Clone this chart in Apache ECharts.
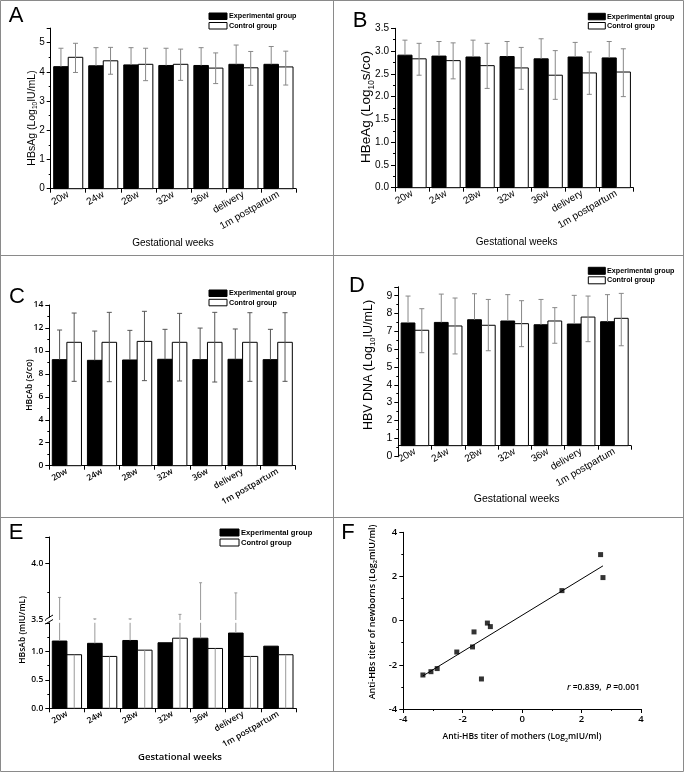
<!DOCTYPE html>
<html><head><meta charset="utf-8">
<script src="https://cdn.jsdelivr.net/npm/echarts@6/dist/echarts.min.js"></script>
<style>html,body{margin:0;padding:0;background:#fff}#c{width:685px;height:774px}</style>
</head><body><div id="c"></div>
<script>
// ---------- DATA ----------
const categories = ['20w', '24w', '28w', '32w', '36w', 'delivery', '1m postpartum'];

// A: HBsAg (Log10 IU/mL)
const hbsagExp = [4.18, 4.21, 4.24, 4.22, 4.22, 4.26, 4.26];
const hbsagExpUpper = [4.81, 4.83, 4.83, 4.81, 4.83, 4.92, 4.87];
const hbsagCtl = [4.50, 4.38, 4.26, 4.26, 4.13, 4.14, 4.17];
const hbsagCtlUpper = [4.98, 4.84, 4.81, 4.78, 4.65, 4.70, 4.71];
const hbsagCtlLower = [3.98, 3.92, 3.70, 3.71, 3.60, 3.54, 3.55];

// B: HBeAg (Log10 s/co)
const hbeagExp = [2.91, 2.89, 2.87, 2.88, 2.83, 2.87, 2.85];
const hbeagExpUpper = [3.24, 3.21, 3.24, 3.21, 3.27, 3.19, 3.21];
const hbeagCtl = [2.83, 2.79, 2.68, 2.63, 2.47, 2.52, 2.54];
const hbeagCtlUpper = [3.17, 3.18, 3.17, 3.08, 3.01, 2.98, 3.05];
const hbeagCtlLower = [2.47, 2.39, 2.18, 2.16, 1.94, 2.05, 2.00];

// C: HBcAb (s/co)
const hbcabExp = [9.24, 9.18, 9.21, 9.27, 9.24, 9.27, 9.24];
const hbcabExpUpper = [11.82, 11.73, 11.79, 11.88, 11.99, 11.91, 11.88];
const hbcabCtl = [10.75, 10.75, 10.83, 10.75, 10.75, 10.75, 10.75];
const hbcabCtlUpper = [13.30, 13.36, 13.45, 13.27, 13.36, 13.33, 13.33];
const hbcabCtlLower = [7.35, 7.32, 7.41, 7.38, 7.29, 7.35, 7.35];

// D: HBV DNA (Log10 IU/mL)
const dnaExp = [7.47, 7.50, 7.65, 7.58, 7.37, 7.41, 7.54];
const dnaExpUpper = [8.98, 9.09, 9.11, 9.06, 8.79, 9.02, 9.06];
const dnaCtl = [7.06, 7.30, 7.34, 7.43, 7.58, 7.80, 7.73];
const dnaCtlUpper = [8.27, 8.87, 8.79, 8.72, 8.33, 8.98, 9.13];
const dnaCtlLower = [5.80, 5.73, 5.91, 6.14, 6.33, 6.42, 6.19];
const dnaAxisCross = 0.58; // value where the category axis crosses in panel D

// E: HBsAb (mIU/mL), broken axis
const hbsabExp = [1.18, 1.14, 1.19, 1.15, 1.23, 1.32, 1.09];
const hbsabExpUpper = [3.70, 3.51, 3.51, null, 3.83, 3.74, null];
const hbsabCtl = [0.94, 0.91, 1.02, 1.23, 1.05, 0.91, 0.94];
const hbsabCtlUpper = [null, null, null, 3.55, null, null, null];
const hbsabCtlLower = [0, 0, 0, 0, 0, 0, 0];

// F: Anti-HBs titers (Log2 mIU/ml)
const motherTiter = [-3.34, -3.07, -2.86, -2.20, -1.67, -1.62, -1.37, -1.17, -1.07, 1.34, 2.64, 2.72];
const newbornTiter = [-2.46, -2.31, -2.17, -1.42, -1.19, -0.51, -2.64, -0.11, -0.27, 1.36, 2.99, 1.95];
const fitLineX = [-3.34, 2.72];
const fitLineY = [-2.50, 2.48];

// ---------- RENDERING ----------
const FA = '"Liberation Sans", Arial, sans-serif';
const FO = '"Open Sans", sans-serif';
const BAR_FRAC = 0.415;

function barSeries(c) {
  const base = c.base || 0;
  return {
    type: 'custom', name: c.exp ? 'Experimental group' : 'Control group',
    xAxisIndex: c.ax, yAxisIndex: c.ax, z: c.exp ? 2 : 3,
    data: c.values.map((v, i) => [i, v]),
    renderItem(params, api) {
      const i = params.dataIndex;
      const v = api.value(1);
      const band = api.size([1, 0])[0];
      const w = band * BAR_FRAC;
      const cx = api.coord([i, base])[0];
      const left = c.exp ? cx - w : cx;
      const ch = [];
      if (c.drawBar !== false) {
        const yT = api.coord([i, v])[1], yB = api.coord([i, base])[1];
        ch.push({type: 'rect', shape: {x: left, y: yT, width: w, height: yB - yT},
          style: {fill: c.exp ? '#000' : '#fff', stroke: '#000', lineWidth: 1}});
      }
      const hi = c.upper ? c.upper[i] : null;
      const lo = c.lower ? c.lower[i] : v;
      const top = hi == null ? v : hi;
      const a = Math.max(lo, c.yMin), b = Math.min(top, c.yMax);
      const ex = left + w / 2;
      const col = c.errColor || '#888';
      const cw = c.capW || 5;
      if (b > a) {
        const p1 = api.coord([i, a])[1], p2 = api.coord([i, b])[1];
        ch.push({type: 'line', shape: {x1: ex, y1: p1, x2: ex, y2: p2}, style: {stroke: col, lineWidth: 1}});
      }
      if (hi != null && hi <= c.yMax && hi >= c.yMin) {
        const py = api.coord([i, hi])[1];
        ch.push({type: 'line', shape: {x1: ex - cw / 2, y1: py, x2: ex + cw / 2, y2: py}, style: {stroke: col, lineWidth: 1}});
      }
      if (c.lower && c.capLower !== false && lo >= c.yMin && lo <= c.yMax) {
        const py = api.coord([i, lo])[1];
        ch.push({type: 'line', shape: {x1: ex - cw / 2, y1: py, x2: ex + cw / 2, y2: py}, style: {stroke: col, lineWidth: 1}});
      }
      return {type: 'group', children: ch};
    }
  };
}

function catAxis(gi, font, size, weight, extra) {
  return Object.assign({
    type: 'category', gridIndex: gi, data: categories,
    axisLine: {show: true, onZero: false, lineStyle: {color: '#000', width: 1}},
    axisTick: {show: true, length: 4, lineStyle: {color: '#000'}},
    axisLabel: {interval: 0, rotate: 30, margin: 5, color: '#000', fontFamily: font, fontSize: size, fontWeight: weight},
    splitLine: {show: false}
  }, extra || {});
}
function valAxis(gi, min, max, interval, font, size, weight, showMax, fmt) {
  return {
    type: 'value', gridIndex: gi, min: min, max: max, interval: interval,
    axisLine: {show: true, onZero: false, lineStyle: {color: '#000', width: 1}},
    axisTick: {show: true, length: 4, lineStyle: {color: '#000'}},
    minorTick: {show: true, splitNumber: 2, length: 2, lineStyle: {color: '#000'}},
    axisLabel: {margin: 6, color: '#000', fontFamily: font, fontSize: size, fontWeight: weight,
      showMaxLabel: showMax, formatter: fmt},
    splitLine: {show: false}, minorSplitLine: {show: false}
  };
}

const f1 = v => v.toFixed(1);
const grids = [
  {left: 50.7, top: 28.1, width: 245.3, height: 160.6},
  {left: 395, top: 28.3, width: 238.3, height: 159.4},
  {left: 49.3, top: 305, width: 246, height: 160.7},
  {left: 398.3, top: 286.8, width: 232.7, height: 169.2},
  {left: 49.3, top: 622.8, width: 246.7, height: 85.5},
  {left: 49.3, top: 537, width: 246.7, height: 83},
  {left: 403.3, top: 532.3, width: 237.7, height: 176.7}
].map(g => Object.assign({containLabel: false, outerBoundsMode: 'none'}, g));

const xAxes = [
  catAxis(0, FA, 10, 'normal'),
  catAxis(1, FA, 10, 'normal'),
  catAxis(2, FO, 8.5, 600),
  catAxis(3, FA, 10, 'normal', {offset: -10.3}),
  catAxis(4, FO, 8.5, 600),
  catAxis(5, FO, 8.5, 600, {show: false}),
  {type: 'value', gridIndex: 6, min: -4, max: 4, interval: 2,
    axisLine: {show: true, onZero: false, lineStyle: {color: '#000'}},
    axisTick: {show: true, length: 4, lineStyle: {color: '#000'}},
    minorTick: {show: true, splitNumber: 2, length: 2, lineStyle: {color: '#000'}},
    axisLabel: {margin: 5, color: '#000', fontFamily: FO, fontSize: 9.5, fontWeight: 600, showMaxLabel: true, showMinLabel: true},
    splitLine: {show: false}}
];
const yAxes = [
  valAxis(0, 0, 5.5, 1, FA, 10, 'normal', false),
  valAxis(1, 0, 3.5, 0.5, FA, 10, 'normal', true, f1),
  valAxis(2, 0, 14, 2, FO, 8.5, 600, true),
  valAxis(3, 0, 9.5, 1, FA, 10.5, 'normal', false),
  valAxis(4, 0, 1.5, 0.5, FO, 8.5, 600, false, f1),
  valAxis(5, 3.5, 4.235, 0.5, FO, 8.5, 600, false, f1),
  valAxis(6, -4, 4, 2, FO, 9.5, 600, true)
];

const series = [
  barSeries({ax: 0, exp: true, values: hbsagExp, upper: hbsagExpUpper, yMin: 0, yMax: 5.5}),
  barSeries({ax: 0, exp: false, values: hbsagCtl, upper: hbsagCtlUpper, lower: hbsagCtlLower, yMin: 0, yMax: 5.5}),
  barSeries({ax: 1, exp: true, values: hbeagExp, upper: hbeagExpUpper, yMin: 0, yMax: 3.5}),
  barSeries({ax: 1, exp: false, values: hbeagCtl, upper: hbeagCtlUpper, lower: hbeagCtlLower, yMin: 0, yMax: 3.5}),
  barSeries({ax: 2, exp: true, values: hbcabExp, upper: hbcabExpUpper, yMin: 0, yMax: 14, errColor: '#555'}),
  barSeries({ax: 2, exp: false, values: hbcabCtl, upper: hbcabCtlUpper, lower: hbcabCtlLower, yMin: 0, yMax: 14, errColor: '#555'}),
  barSeries({ax: 3, exp: true, values: dnaExp, upper: dnaExpUpper, yMin: 0, yMax: 9.5, base: dnaAxisCross}),
  barSeries({ax: 3, exp: false, values: dnaCtl, upper: dnaCtlUpper, lower: dnaCtlLower, yMin: 0, yMax: 9.5, base: dnaAxisCross}),
  barSeries({ax: 4, exp: true, values: hbsabExp, upper: hbsabExpUpper, yMin: 0, yMax: 1.5, errColor: '#999', capW: 3}),
  barSeries({ax: 4, exp: false, values: hbsabCtl, upper: hbsabCtlUpper, lower: hbsabCtlLower, capLower: false, yMin: 0, yMax: 1.5, errColor: '#999', capW: 3}),
  barSeries({ax: 5, exp: true, drawBar: false, values: hbsabExp, upper: hbsabExpUpper, yMin: 3.5, yMax: 4.235, errColor: '#999', capW: 3}),
  barSeries({ax: 5, exp: false, drawBar: false, values: hbsabCtl, upper: hbsabCtlUpper, yMin: 3.5, yMax: 4.235, errColor: '#999', capW: 3}),
  {type: 'scatter', xAxisIndex: 6, yAxisIndex: 6, symbol: 'rect', symbolSize: 5,
    itemStyle: {color: '#000'}, data: motherTiter.map((x, i) => [x, newbornTiter[i]])},
  {type: 'line', xAxisIndex: 6, yAxisIndex: 6, showSymbol: false, symbol: 'none',
    lineStyle: {color: '#000', width: 1}, data: fitLineX.map((x, i) => [x, fitLineY[i]])}
];

// ---------- graphic annotations ----------
const G = [];
function txt(x, y, text, o) {
  o = o || {};
  G.push({type: 'text', x: x, y: y, rotation: o.rot || 0, silent: true,
    style: {text: text, fill: '#000', font: o.font, align: o.align || 'center', verticalAlign: o.va || 'middle', rich: o.rich}});
}
function legend(bx, y1, y2, bw, bh, tx, font) {
  G.push({type: 'rect', shape: {x: bx, y: y1, width: bw, height: bh}, style: {fill: '#000', stroke: '#000', lineWidth: 1}});
  G.push({type: 'rect', shape: {x: bx, y: y2, width: bw, height: bh}, style: {fill: '#fff', stroke: '#000', lineWidth: 1}});
  txt(tx, y1 + bh / 2, 'Experimental group', {font: font, align: 'left'});
  txt(tx, y2 + bh / 2, 'Control group', {font: font, align: 'left'});
}
function subRich(size, fam, weight) {
  return {
    m: {font: weight + ' ' + size + 'px ' + fam, verticalAlign: 'middle', lineHeight: size * 1.3},
    s: {font: weight + ' ' + (size * 0.62) + 'px ' + fam, verticalAlign: 'bottom', lineHeight: size * 1.3}
  };
}

// frame
const LC = '#8a8a8a';
G.push({type: 'rect', shape: {x: 0.5, y: 0.5, width: 683, height: 771}, style: {fill: 'none', stroke: LC, lineWidth: 1}});
G.push({type: 'line', shape: {x1: 333.5, y1: 0, x2: 333.5, y2: 772}, style: {stroke: LC, lineWidth: 1}});
G.push({type: 'line', shape: {x1: 0, y1: 255.5, x2: 684, y2: 255.5}, style: {stroke: LC, lineWidth: 1}});
G.push({type: 'line', shape: {x1: 0, y1: 517.5, x2: 684, y2: 517.5}, style: {stroke: LC, lineWidth: 1}});

// panel letters
const LF = 'normal 22px ' + FA;
txt(16, 16, 'A', {font: LF});
txt(360, 21, 'B', {font: LF});
txt(17, 297, 'C', {font: LF});
txt(357, 286, 'D', {font: LF});
txt(16, 533, 'E', {font: LF});
txt(348, 533, 'F', {font: LF});

// legends
legend(209, 13, 22.5, 18, 6.5, 229, 'bold 7.2px ' + FA);
legend(588.3, 13.3, 22.5, 17, 6.5, 607, 'bold 7.2px ' + FA);
legend(209, 290, 299.3, 18, 6.5, 229, 'bold 7.2px ' + FA);
legend(588.3, 267.3, 276.8, 17, 7, 607, 'bold 7.2px ' + FA);
legend(220, 529, 539, 19, 7, 241, 'bold 7.6px ' + FA);

// axis titles
txt(173, 243, 'Gestational weeks', {font: 'normal 10px ' + FA});
txt(516.7, 242.7, 'Gestational weeks', {font: 'normal 10px ' + FA});
txt(516.7, 499.3, 'Gestational weeks', {font: 'normal 10.5px ' + FA});
txt(180, 757, 'Gestational weeks', {font: '600 9.5px ' + FO});
txt(32, 118, '{m|HBsAg (Log}{s|10}{m|IU/mL)}', {rot: Math.PI / 2, rich: subRich(10.5, FA, 'normal')});
txt(366.7, 107, '{m|HBeAg (Log}{s|10}{m|s/co)}', {rot: Math.PI / 2, rich: subRich(13.5, FA, 'normal')});
txt(30, 385, 'HBcAb (s/co)', {rot: Math.PI / 2, font: '600 8.5px ' + FO});
txt(368.3, 365, '{m|HBV DNA (Log}{s|10}{m|IU/mL)}', {rot: Math.PI / 2, rich: subRich(12.5, FA, 'normal')});
txt(22.3, 630, 'HBsAb (mIU/mL)', {rot: Math.PI / 2, font: '600 8.5px ' + FO});
txt(372.3, 612, '{m|Anti-HBs titer of newborns (Log}{s|2}{m|mIU/ml)}', {rot: Math.PI / 2, rich: subRich(9, FO, 600)});
txt(522, 737, '{m|Anti-HBs titer of mothers (Log}{s|2}{m|mIU/ml)}', {rich: subRich(8.5, FO, 600)});
txt(567, 688, '{i|r}{m| =0.839,  }{i|P}{m| =0.001}', {align: 'left', rich: {
  i: {font: 'italic 600 8.5px ' + FO}, m: {font: '600 8.5px ' + FO}}});

// axis break mark for E
G.push({type: 'rect', shape: {x: 46, y: 617.5, width: 7, height: 4}, style: {fill: '#fff'}, z: 100});
G.push({type: 'line', shape: {x1: 45.5, y1: 619.5, x2: 53, y2: 615}, style: {stroke: '#000', lineWidth: 1}, z: 101});
G.push({type: 'line', shape: {x1: 45.5, y1: 624, x2: 53, y2: 619.5}, style: {stroke: '#000', lineWidth: 1}, z: 101});

const chart = echarts.init(document.getElementById('c'), null, {renderer: 'canvas'});
chart.setOption({
  animation: false, backgroundColor: '#fff',
  grid: grids, xAxis: xAxes, yAxis: yAxes, series: series,
  graphic: {elements: G}
});
</script></body></html>
